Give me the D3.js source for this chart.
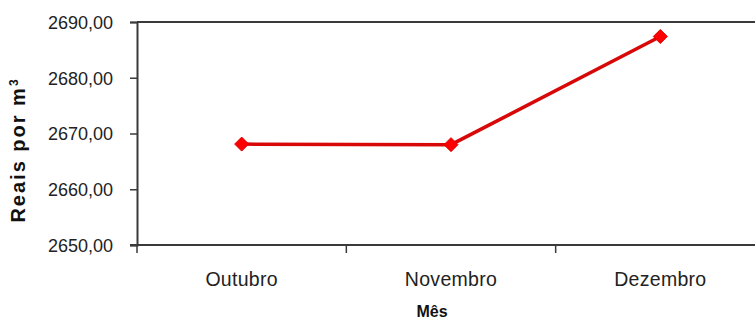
<!doctype html>
<html>
<meta charset="utf-8">
<head>
<script src="https://cdn.jsdelivr.net/npm/d3@7/dist/d3.min.js"></script>
<style>
  body { margin: 0; background: #fff; }
  svg { display: block; }
</style>
</head>
<body>
<script>
var meses = ["Outubro", "Novembro", "Dezembro"];
var precos = [2668.1, 2668.0, 2687.4];
var yTicks = [2650, 2660, 2670, 2680, 2690];

var width = 755, height = 322;
var mLeft = 137, mRight = 765, mTop = 22, mBottom = 245;

var svg = d3.select("body").append("svg")
  .attr("width", width)
  .attr("height", height);

var x = d3.scaleBand().domain(meses).range([mLeft, mRight]);
var y = d3.scaleLinear().domain([2650, 2690]).range([mBottom, mTop]);

var axisColor = "#3a3a3a";
var fmt = function(d) { return d3.format(".2f")(d).replace(".", ","); };

// top border
svg.append("line")
  .attr("x1", mLeft).attr("x2", width)
  .attr("y1", mTop).attr("y2", mTop)
  .attr("stroke", axisColor).attr("stroke-width", 2);

// y axis
var gy = svg.append("g")
  .attr("transform", "translate(" + mLeft + ",0)")
  .call(d3.axisLeft(y).tickValues(yTicks).tickSize(7).tickPadding(17).tickFormat(fmt));
gy.select(".domain").attr("stroke", axisColor).attr("stroke-width", 2);
gy.selectAll(".tick line").attr("stroke", axisColor).attr("stroke-width", 1.5);
gy.selectAll(".tick text")
  .attr("fill", "#222")
  .style("font-family", "'Liberation Sans', Arial, sans-serif")
  .style("font-size", "18px")
  .attr("dy", "0.36em");

// x axis
var gx = svg.append("g")
  .attr("transform", "translate(0," + mBottom + ")")
  .call(d3.axisBottom(x).tickSize(0).tickPadding(27));
gx.select(".domain").remove();
gx.append("line")
  .attr("x1", mLeft - 7).attr("x2", width)
  .attr("stroke", axisColor).attr("stroke-width", 2);
gx.selectAll("line.bound")
  .data(meses)
  .enter().append("line")
  .attr("class", "bound")
  .attr("x1", function(d) { return x(d); })
  .attr("x2", function(d) { return x(d); })
  .attr("y1", 0).attr("y2", 8)
  .attr("stroke", axisColor).attr("stroke-width", 1.5);
gx.selectAll(".tick text")
  .attr("fill", "#222")
  .style("font-family", "'Liberation Sans', Arial, sans-serif")
  .style("font-size", "19.5px")
  .style("letter-spacing", "0.3px");

// line
var pts = meses.map(function(m, i) { return [x(m) + x.bandwidth() / 2, y(precos[i])]; });
svg.append("path")
  .datum(pts)
  .attr("d", d3.line())
  .attr("fill", "none")
  .attr("stroke", "#d80808")
  .attr("stroke-width", 3.5);

svg.selectAll("path.mk")
  .data(pts)
  .enter().append("path")
  .attr("class", "mk")
  .attr("transform", function(d) { return "translate(" + d[0] + "," + d[1] + ")"; })
  .attr("d", "M0,-7L7,0L0,7L-7,0Z")
  .attr("fill", "#ff0000")
  .attr("stroke", "#e00000")
  .attr("stroke-width", 1);

// axis titles
var yt = svg.append("text")
  .attr("transform", "translate(25,150) rotate(-90)")
  .attr("text-anchor", "middle")
  .style("font-family", "'Liberation Sans', Arial, sans-serif")
  .style("font-weight", "bold")
  .style("font-size", "20px")
  .style("letter-spacing", "2px")
  .attr("fill", "#111");
yt.append("tspan").text("Reais por m");
yt.append("tspan").attr("dy", "-0.55em").style("font-size", "12px").text("3");

svg.append("text")
  .attr("x", 432).attr("y", 317)
  .attr("text-anchor", "middle")
  .style("font-family", "'Liberation Sans', Arial, sans-serif")
  .style("font-weight", "bold")
  .style("font-size", "16px")
  .attr("fill", "#111")
  .text("Mês");
</script>
</body>
</html>
